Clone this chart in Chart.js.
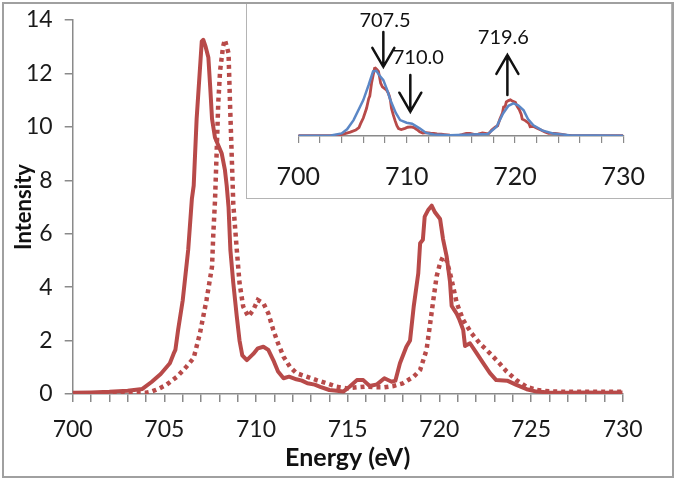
<!DOCTYPE html>
<html><head><meta charset="utf-8">
<script src="https://cdn.jsdelivr.net/npm/chart.js@4"></script>
<style>
html,body{margin:0;padding:0;background:#fff;}
#wrap{position:relative;width:677px;height:481px;overflow:hidden;background:#fff;}
#main{position:absolute;left:0;top:0;}
#frame{position:absolute;left:2px;top:2px;width:668px;height:472px;border:2px solid #a0a0a0;pointer-events:none;}
#insetBox{position:absolute;left:247px;top:3px;width:424px;height:195px;background:#fff;}
#inset{position:absolute;left:0;top:0;}
#insetFrame{position:absolute;left:246px;top:2px;width:424px;height:195px;border:1.5px solid #b4b4b4;pointer-events:none;}
</style></head>
<body>
<div id="wrap">
  <canvas id="main" width="677" height="481"></canvas>
  <div id="insetBox"><canvas id="inset" width="424" height="195"></canvas></div>
  <div id="insetFrame"></div>
  <div id="frame"></div>
</div>
<script>
// ---------- DATA ----------
const energySolid = [700.0,701.0,702.0,703.0,703.8,704.3,704.8,705.3,705.5,705.6,705.75,706.0,706.3,706.5,706.6,706.76,707.04,707.12,707.25,707.4,707.5,707.6,707.76,708.13,708.3,708.4,708.5,708.6,708.76,708.95,709.1,709.25,709.5,709.85,710.1,710.4,710.67,710.94,711.2,711.5,711.8,712.2,712.5,712.8,713.2,713.5,714.0,714.4,714.76,715.1,715.5,715.85,716.2,716.6,717.0,717.4,717.6,717.85,718.2,718.4,718.6,718.85,718.95,719.1,719.2,719.4,719.58,719.76,720.04,720.2,720.4,720.58,720.67,720.95,721.1,721.3,721.4,721.67,722.04,722.4,722.76,723.1,723.7,724.2,724.76,725.3,726,727,728,729,730];
const intensitySolid = [0.05,0.06,0.08,0.12,0.19,0.45,0.75,1.15,1.5,1.65,2.4,3.5,5.4,7.3,7.8,10.3,13.2,13.26,13.0,12.6,11.5,10.3,9.6,9.0,8.4,7.8,7.0,5.4,4.15,2.9,2.0,1.45,1.27,1.5,1.71,1.77,1.65,1.27,0.84,0.59,0.65,0.55,0.5,0.4,0.35,0.27,0.15,0.12,0.09,0.27,0.52,0.52,0.3,0.36,0.59,0.46,0.5,1.15,1.77,2.0,3.27,4.52,5.64,5.77,6.64,6.9,7.05,6.8,6.55,5.8,5.14,4.2,3.3,3.0,2.77,2.4,1.8,1.9,1.52,1.15,0.78,0.52,0.5,0.34,0.18,0.09,0.06,0.05,0.06,0.05,0.06];

const energyDotted = [700,702,703,704,704.3,704.7,705.1,705.7,706.2,706.6,706.94,707.3,707.6,707.67,707.76,707.85,707.94,708.04,708.2,708.3,708.5,708.58,708.67,708.76,708.95,709.1,709.3,709.58,709.85,710.1,710.4,710.67,710.94,711.2,711.5,711.85,712.2,712.76,713.3,713.85,714.4,714.95,715.5,716.0,716.5,717.0,717.5,718.0,718.6,718.95,719.3,719.5,719.67,719.85,720.04,720.2,720.4,720.67,720.95,721.3,721.76,722.2,722.76,723.2,723.67,724.2,724.76,725.3,726,727,728,729,730];
const intensityDotted = [0.02,0.02,0.03,0.05,0.09,0.2,0.34,0.65,1.02,1.35,2.27,3.52,4.77,6.0,7.2,9.0,10.9,12.1,13.0,13.26,12.76,10.9,9.0,7.1,5.4,4.15,3.27,2.9,3.15,3.52,3.4,3.02,2.4,1.9,1.4,1.02,0.78,0.65,0.52,0.4,0.27,0.21,0.25,0.28,0.25,0.25,0.3,0.4,0.65,0.9,1.65,2.65,3.52,4.4,4.9,5.14,5.0,4.27,3.4,2.77,2.27,1.9,1.52,1.21,0.84,0.52,0.27,0.15,0.1,0.08,0.08,0.08,0.08];

const energyBlue = [700,703,704,704.5,705.1,706.0,706.5,706.9,707.2,707.5,707.85,708.2,708.5,709.0,709.4,710.0,710.5,711.2,711.8,712.5,714,716,717.5,718.3,718.9,719.4,719.85,720.3,720.8,721.2,721.7,722.5,723.5,725,730];
const intensityBlue = [0.05,0.1,0.5,1.3,3.1,7.0,10.0,12.6,12.7,11.8,10.9,9.0,7.0,4.5,3.1,2.6,2.4,1.5,0.6,0.3,0.15,0.3,0.4,1.8,4.4,5.9,6.35,6.0,5.0,3.3,2.1,1.1,0.5,0.15,0.05];

const xTickLabels = [700,705,710,715,720,725,730];
const yTickLabels = [0,2,4,6,8,10,12,14];
const insetTickLabels = [700,710,720,730];

const annLabels = ['707.5','710.0','719.6'];
const annLabelX = [708.0,711.08,718.93];
const annLabelY = [22.6,15.3,19.2];
const arrowX    = [707.85,710.34,719.3];
const arrowFrom = [20.3,11.9,8.0];
const arrowTo   = [13.5,4.74,15.8];

// ---------- STYLE ----------
const RED = '#B84A49';
const BLUE = '#5B87C6';
const AXIS = '#8a8a8a';
const TXT = '#1a1a1a';
const pts = (xs, ys) => xs.map((x, i) => ({x, y: ys[i]}));

new Chart(document.getElementById('main'), {
  type: 'line',
  data: { datasets: [
    { data: pts(energyDotted, intensityDotted), borderColor: RED, borderWidth: 4.5, borderDash: [4, 4], borderCapStyle: 'butt', pointRadius: 0, tension: 0, fill: false },
    { data: pts(energySolid, intensitySolid), borderColor: RED, borderWidth: 4, borderJoinStyle: 'round', pointRadius: 0, tension: 0, fill: false }
  ]},
  options: {
    responsive: false, animation: false, events: [],
    layout: { padding: { left: 0, right: 54.3, top: 20, bottom: 0 } },
    plugins: { legend: { display: false }, tooltip: { enabled: false } },
    scales: {
      x: {
        type: 'linear', min: 700, max: 730,
        ticks: { stepSize: 1, autoSkip: false, maxRotation: 0, padding: 14,
          callback: v => xTickLabels.includes(v) ? String(v) : '',
          font: { family: 'Lato', size: 23 }, color: TXT },
        grid: { drawOnChartArea: false, drawTicks: true, tickLength: 8, color: AXIS, lineWidth: 1.5 },
        border: { color: AXIS, width: 1.5 },
        title: { display: true, text: 'Energy (eV)', color: '#111',
          font: { family: 'Lato', size: 25, weight: 'bold' }, padding: { top: 0, bottom: 8 } },
        afterFit: s => { s.height = 87; s.paddingLeft = 0; s.paddingRight = 0; }
      },
      y: {
        min: 0, max: 14,
        ticks: { stepSize: 2, padding: 12, font: { family: 'Lato', size: 23 }, color: TXT,
          callback: v => yTickLabels.includes(v) ? String(v) : '' },
        grid: { drawOnChartArea: false, drawTicks: true, tickLength: 8, color: AXIS, lineWidth: 1.5 },
        border: { color: AXIS, width: 1.5 },
        title: { display: true, text: 'Intensity', color: '#111',
          font: { family: 'Lato', size: 22, weight: 'bold' }, padding: { top: 11, bottom: 0 } },
        afterFit: s => { s.width = 72.7; s.paddingTop = 0; s.paddingBottom = 0; }
      }
    }
  }
});

const arrowPlugin = {
  id: 'arrows',
  afterDatasetsDraw(chart) {
    const { ctx, scales: { x, y } } = chart;
    ctx.save();
    ctx.fillStyle = '#111';
    ctx.font = '20px Lato';
    ctx.textAlign = 'center';
    ctx.textBaseline = 'middle';
    annLabels.forEach((t, i) => ctx.fillText(t, x.getPixelForValue(annLabelX[i]), y.getPixelForValue(annLabelY[i])));
    ctx.strokeStyle = '#111';
    ctx.lineWidth = 2.5;
    ctx.lineCap = 'round';
    ctx.lineJoin = 'miter';
    arrowX.forEach((ax, i) => {
      const px = x.getPixelForValue(ax);
      const y0 = y.getPixelForValue(arrowFrom[i]);
      const y1 = y.getPixelForValue(arrowTo[i]);
      const dir = y1 > y0 ? 1 : -1;
      ctx.beginPath();
      ctx.moveTo(px, y0); ctx.lineTo(px, y1);
      ctx.moveTo(px - 11, y1 - dir * 19); ctx.lineTo(px, y1); ctx.lineTo(px + 11, y1 - dir * 19);
      ctx.stroke();
    });
    ctx.restore();
  }
};

new Chart(document.getElementById('inset'), {
  type: 'line',
  data: { datasets: [
    { data: pts(energyBlue, intensityBlue), borderColor: BLUE, borderWidth: 2.5, pointRadius: 0, tension: 0, fill: false },
    { data: pts(energySolid, intensitySolid), borderColor: RED, borderWidth: 2.8, pointRadius: 0, tension: 0, fill: false }
  ]},
  options: {
    responsive: false, animation: false, events: [],
    layout: { padding: { left: 51.3, right: 47.7, top: 20.2, bottom: 0 } },
    plugins: { legend: { display: false }, tooltip: { enabled: false } },
    scales: {
      x: {
        type: 'linear', min: 700, max: 730,
        ticks: { stepSize: 2, autoSkip: false, maxRotation: 0, padding: 19,
          callback: v => insetTickLabels.includes(v) ? String(v) : '',
          font: { family: 'Lato', size: 25 }, color: TXT },
        grid: { drawOnChartArea: false, drawTicks: true, tickLength: 7, color: AXIS, lineWidth: 1.2 },
        border: { color: AXIS, width: 1.5 },
        afterFit: s => { s.height = 62; s.paddingLeft = 0; s.paddingRight = 0; }
      },
      y: { display: false, min: 0, max: 22 }
    }
  },
  plugins: [arrowPlugin]
});
</script>
</body></html>
